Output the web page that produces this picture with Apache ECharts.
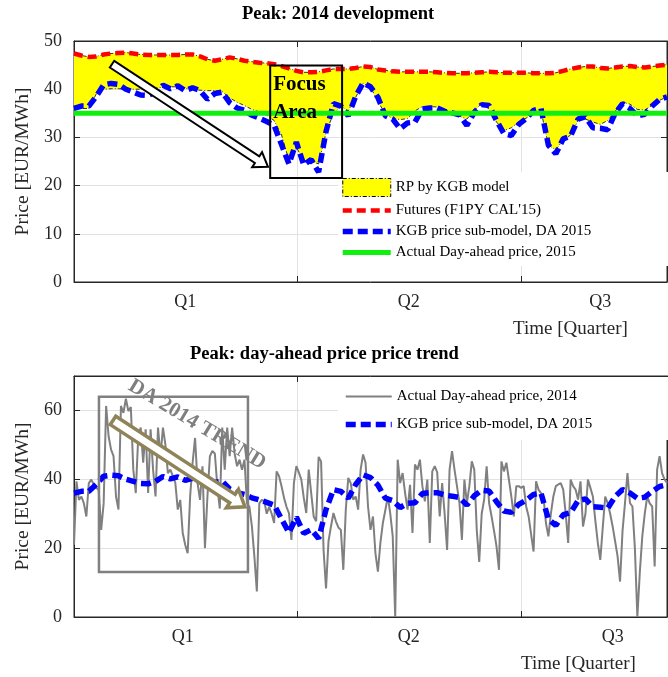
<!DOCTYPE html>
<html>
<head>
<meta charset="utf-8">
<title>Peak price development</title>
<script src="https://cdn.jsdelivr.net/npm/echarts@6/dist/echarts.min.js"></script>
<style>
  html, body { margin: 0; padding: 0; background: #fff; }
  #chart { width: 668px; height: 677px; }
</style>
</head>
<body>
<div id="chart"></div>
<script>
// ---- data ---------------------------------------------------------------
// Model curves are sampled every third day; the 2014 day-ahead price is daily.
const STEP = 3;
const DAY_MAX = 240;          // day index of the last sample (late August)
const QUARTER = 90.5;         // days per quarter, used for the quarter grid lines

const quarterLabels = ['Q1', 'Q2', 'Q3'];
const quarterLabelDaysTop = [45, 135.5, 213];
const quarterLabelDaysBottom = [44, 135.5, 218];

// Futures (F1PY CAL'15), EUR/MWh
const futures = [
  47.4, 47.0, 46.7, 46.8, 47.2, 47.4, 47.5, 47.6, 47.4, 47.2,
  47.1, 47.1, 47.1, 47.1, 47.1, 47.2, 47.2, 46.8, 46.2, 45.9,
  46.2, 46.6, 46.3, 45.9, 45.7, 45.5, 45.4, 45.2, 44.8, 44.3,
  43.8, 43.5, 43.5, 43.6, 43.9, 44.2, 44.2, 44.2, 44.4, 44.7,
  44.6, 44.1, 43.9, 43.7, 43.6, 43.6, 43.6, 43.6, 43.6, 43.5,
  43.4, 43.3, 43.3, 43.3, 43.4, 43.5, 43.6, 43.5, 43.4, 43.4,
  43.4, 43.4, 43.3, 43.3, 43.3, 43.4, 43.8, 44.2, 44.5, 44.7,
  44.7, 44.4, 44.3, 44.5, 44.7, 44.8, 44.6, 44.5, 44.7, 44.9,
  45.1
];

// Lower edge of the risk premium band (RP by KGB model)
const rpLower = [
  36.0, 36.0, 36.0, 39.0, 40.0, 40.1, 40.1, 40.0, 40.0, 40.0,
  40.0, 40.2, 40.4, 40.5, 40.5, 40.2, 39.9, 39.8, 39.7, 39.7,
  39.5, 38.2, 37.3, 36.6, 35.8, 35.3, 34.6, 33.5, 30.5, 25.2,
  28.0, 25.0, 25.0, 24.5, 31.0, 35.0, 36.5, 35.5, 38.3, 41.2,
  40.4, 37.5, 34.8, 33.9, 33.7, 33.9, 35.5, 36.4, 36.4, 36.3,
  35.8, 35.2, 34.4, 33.8, 35.6, 37.0, 35.9, 33.2, 31.4, 32.0,
  33.2, 34.0, 35.0, 35.5, 28.4, 27.4, 29.5, 30.5, 33.5, 33.8,
  33.2, 32.7, 33.5, 35.4, 37.3, 36.9, 35.8, 35.7, 36.6, 37.7,
  38.4
];

// KGB price sub-model, DA 2015
const kgbModel = [
  36.0, 36.5, 36.5, 38.5, 40.9, 41.2, 41.0, 40.0, 39.4, 38.8,
  38.7, 39.4, 40.8, 40.1, 40.7, 39.7, 40.3, 39.7, 37.9, 39.1,
  39.4, 37.2, 36.1, 35.6, 34.6, 34.0, 33.3, 32.5, 28.5, 24.5,
  29.0, 24.3, 25.4, 22.8, 31.2, 37.0, 36.5, 34.5, 38.5, 41.3,
  40.5, 38.3, 34.5, 33.8, 31.8, 33.0, 33.2, 35.9, 36.1, 36.1,
  35.4, 35.1, 34.7, 32.5, 35.2, 36.8, 36.6, 33.5, 30.8, 30.4,
  32.7, 33.9, 35.6, 36.0, 28.4, 26.6, 29.7, 30.3, 33.8, 34.3,
  32.0, 31.9, 31.6, 35.0, 37.0, 36.0, 34.5, 34.8, 36.5, 37.9,
  38.4
];

// Actual day-ahead price 2015 (flat level)
const actualDA2015 = 35;

// Actual day-ahead peak price 2014, one value per day
const actualDA2014 = [
  21, 39.4, 34, 35, 33, 29.2, 38.9, 39.9, 38.5, 37.5,
  37, 25.3, 33, 61.3, 52.5, 48.6, 46.7, 35, 31.2, 61.3,
  59.3, 63.4, 59.8, 61, 42.8, 36, 52.5, 55, 44.8, 54.5,
  36, 54.5, 42.8, 35, 55, 46.7, 55, 50, 41.8, 42.8,
  40.9, 39, 31.2, 34, 24.4, 21, 18.5, 35, 44.8, 52,
  38.9, 34, 43.8, 20, 35, 46.7, 48.2, 47.5, 38, 31.5,
  55, 42.8, 55, 46.7, 55, 47.5, 43.8, 45.7, 42.8, 45.7,
  33, 32, 26.3, 17.6, 7.4, 33, 34, 33.6, 30, 32,
  30, 27.3, 42.3, 40.9, 38, 34.6, 32, 30.2, 22.4, 38.9,
  43.8, 42, 39.9, 34.6, 30.2, 42.8, 36, 29.2, 27.8, 46.5,
  45.2, 19.5, 8.3, 22, 26.3, 30.2, 27.8, 26, 25.3, 13.7,
  31.2, 40.4, 38.9, 34.1, 35, 31.2, 42.8, 47.2, 44.8, 32.1,
  25.3, 29.2, 18.5, 13.2, 21.5, 27.3, 31, 35, 30, 23.4,
  0, 45.7, 38.9, 41.8, 36, 31.2, 38.4, 24.4, 44.3, 42.8,
  45.7, 38, 33.6, 39.9, 21.5, 42.3, 43.8, 42, 29.2, 38.9,
  30, 19.5, 42.8, 48.2, 42.8, 38, 33.1, 22.4, 39.9, 33,
  38, 45.2, 42.8, 25.3, 16, 30, 34.1, 43.8, 33.1, 29.2,
  25, 20.5, 13.7, 45.2, 42.3, 44.8, 40, 35, 29.2, 38,
  38, 37.5, 38, 32.1, 29.2, 24, 19, 39.4, 37, 36,
  35, 27.3, 23.4, 30, 35, 38, 38.5, 38.9, 37, 30,
  21.5, 39.9, 38, 37, 34.1, 39.4, 26.3, 30, 39.9, 37.5,
  35, 28, 21.5, 16.6, 26, 35, 33, 30, 26.3, 22,
  17.6, 10.3, 25, 33.1, 41.8, 33.1, 32.1, 20, 0, 13,
  23.4, 30, 35, 33, 32.1, 14.7, 42.8, 46.7, 41.8, 40,
  38.9
];

// Annotation anchors, in [day, EUR/MWh]
const focusBox = [[79.4, 44.9], [108.5, 21.6]];
const focusArrow = [[15.4, 45.2], [78.5, 23.9]];
const trendBox = [[10.1, 64.0], [70.4, 13.1]];
const trendArrow = [[15.8, 57.1], [69.2, 32.0]];
const trendTextAt = [49.8, 55.9];

// ---- styling ------------------------------------------------------------
const FONT = '"Liberation Serif", "Times New Roman", Times, serif';
const INK = '#262626';
const GRID_LINE = '#e2e2e2';
const BAND_EDGE = { color: '#000', width: 0.8, type: [4, 2, 1, 2] };
const BLUE_DASH = { color: '#0000ff', width: 5.5, type: [10, 5] };
const NO_MARKER = { opacity: 0 };   // legend rows show only the line

const pairs = (values, step) => values.map((v, i) => [i * step, v]);

function timeAxis(gridIndex, labelDays, nameShift) {
  return {
    type: 'value', gridIndex, position: 'bottom',
    min: 0, max: DAY_MAX, interval: QUARTER,
    axisLine: { show: true, onZero: false, lineStyle: { color: INK, width: 1 } },
    axisTick: { show: true, inside: true, length: 6, lineStyle: { color: INK } },
    axisLabel: {
      customValues: labelDays,
      formatter: v => quarterLabels[Math.floor(v / QUARTER)] || '',
      margin: 11, fontFamily: FONT, fontSize: 18, color: INK
    },
    splitLine: { show: true, lineStyle: { color: GRID_LINE, width: 1 } },
    name: 'Time [Quarter]', nameLocation: 'middle', nameGap: 38,
    nameTextStyle: { fontFamily: FONT, fontSize: 19, color: INK, padding: [0, 0, 0, nameShift * 2] }
  };
}

function topFrameAxis(gridIndex) {
  return {
    type: 'value', gridIndex, position: 'top',
    min: 0, max: DAY_MAX, interval: QUARTER,
    axisLine: { show: true, onZero: false, lineStyle: { color: INK, width: 1 } },
    axisTick: { show: true, inside: true, length: 6, lineStyle: { color: INK } },
    axisLabel: { show: false },
    splitLine: { show: false }
  };
}

function priceAxis(gridIndex, max, interval) {
  return {
    type: 'value', gridIndex, position: 'left',
    min: 0, max, interval,
    axisLine: { show: true, onZero: false, lineStyle: { color: INK, width: 1 } },
    axisTick: { show: true, inside: true, length: 6, lineStyle: { color: INK } },
    axisLabel: {
      margin: 12, fontFamily: FONT, fontSize: 18, color: INK,
      formatter: v => (v % interval === 0 ? String(v) : '')
    },
    splitLine: { show: true, lineStyle: { color: GRID_LINE, width: 1 } },
    name: 'Price [EUR/MWh]', nameLocation: 'middle', nameGap: 41,
    nameTextStyle: { fontFamily: FONT, fontSize: 19.5, color: INK }
  };
}

function rightFrameAxis(gridIndex, max, interval) {
  return {
    type: 'value', gridIndex, position: 'right',
    min: 0, max, interval,
    axisLine: { show: true, onZero: false, lineStyle: { color: INK, width: 1 } },
    axisTick: { show: true, inside: true, length: 6, lineStyle: { color: INK } },
    axisLabel: { show: false },
    splitLine: { show: false }
  };
}

// Filled band between the futures curve and the lower RP edge
function renderBand(params, api) {
  if (params.dataIndex !== 0) return null;
  const upper = futures.map((v, i) => api.coord([i * STEP, v]));
  const lower = rpLower.map((v, i) => api.coord([i * STEP, v])).reverse();
  return {
    type: 'polygon',
    shape: { points: upper.concat(lower) },
    style: { fill: '#ffff00', stroke: null }
  };
}

const titleStyle = { fontFamily: FONT, fontSize: 18.5, fontWeight: 'bold', color: '#000' };
const legendText = { fontFamily: FONT, fontSize: 15, color: '#000' };
const legendLine = { width: 'inherit', type: 'inherit' };

const option = {
  animation: false,
  backgroundColor: '#fff',
  title: [
    { text: 'Peak: 2014 development', left: 242, top: 5, padding: 0, textStyle: titleStyle },
    { text: 'Peak: day-ahead price price trend', left: 190, top: 345, padding: 0, textStyle: titleStyle }
  ],
  grid: [
    { left: 74, top: 41, width: 593, height: 241, show: true, borderColor: INK, borderWidth: 1 },
    { left: 74, top: 376, width: 593, height: 241, show: true, borderColor: INK, borderWidth: 1 }
  ],
  xAxis: [
    timeAxis(0, quarterLabelDaysTop, 200),
    topFrameAxis(0),
    timeAxis(1, quarterLabelDaysBottom, 208),
    topFrameAxis(1)
  ],
  yAxis: [
    priceAxis(0, 50, 10),
    rightFrameAxis(0, 50, 10),
    priceAxis(1, 70, 20),
    rightFrameAxis(1, 70, 20)
  ],
  legend: [
    {
      data: [
        { name: 'RP by KGB model', icon: 'rect',
          itemStyle: { color: '#ffff00', borderColor: '#000', borderWidth: 1, borderType: [4, 2, 1, 2] } },
        { name: "Futures (F1PY CAL'15)", itemStyle: NO_MARKER },
        { name: 'KGB price sub-model, DA 2015', itemStyle: NO_MARKER },
        { name: 'Actual Day-ahead price, 2015', itemStyle: NO_MARKER }
      ],
      orient: 'vertical', left: 338, top: 172,
      padding: [6, 78, 6, 2], itemGap: 6, itemWidth: 48, itemHeight: 18,
      backgroundColor: '#fff', selectedMode: false, textStyle: legendText, lineStyle: legendLine
    },
    {
      data: [
        { name: 'Actual Day-ahead price, 2014', itemStyle: NO_MARKER },
        { name: 'KGB price sub-model, DA 2015', itemStyle: NO_MARKER }
      ],
      orient: 'vertical', left: 338, top: 377,
      padding: [12, 89, 8, 5], itemGap: 13, itemWidth: 46, itemHeight: 12,
      backgroundColor: '#fff', selectedMode: false, textStyle: legendText, lineStyle: legendLine
    }
  ],
  series: [
    {
      name: 'RP by KGB model', type: 'custom', xAxisIndex: 0, yAxisIndex: 0,
      data: futures.map((hi, i) => [i * STEP, rpLower[i], hi]),
      encode: { x: 0, y: [1, 2] },
      itemStyle: { color: '#ffff00' },
      renderItem: renderBand, silent: true, z: 1
    },
    {
      name: 'RP lower edge', type: 'line', xAxisIndex: 0, yAxisIndex: 0,
      data: pairs(rpLower, STEP), symbol: 'none', silent: true, lineStyle: BAND_EDGE, z: 2
    },
    {
      name: 'RP upper edge', type: 'line', xAxisIndex: 0, yAxisIndex: 0,
      data: pairs(futures, STEP), symbol: 'none', silent: true, lineStyle: BAND_EDGE, z: 2
    },
    {
      name: "Futures (F1PY CAL'15)", type: 'line', xAxisIndex: 0, yAxisIndex: 0,
      data: pairs(futures, STEP), symbol: 'none',
      itemStyle: { color: '#ff0000' },
      lineStyle: { color: '#ff0000', width: 4.5, type: [9, 5] }, z: 3
    },
    {
      name: 'KGB price sub-model, DA 2015', type: 'line', xAxisIndex: 0, yAxisIndex: 0,
      data: pairs(kgbModel, STEP), symbol: 'none',
      itemStyle: { color: '#0000ff' }, lineStyle: BLUE_DASH, z: 3
    },
    {
      name: 'Actual Day-ahead price, 2015', type: 'line', xAxisIndex: 0, yAxisIndex: 0,
      data: [[0, actualDA2015], [DAY_MAX, actualDA2015]], symbol: 'none',
      itemStyle: { color: '#10f010' },
      lineStyle: { color: '#10f010', width: 5 }, z: 4
    },
    {
      name: 'Actual Day-ahead price, 2014', type: 'line', xAxisIndex: 2, yAxisIndex: 2,
      data: pairs(actualDA2014, 1), symbol: 'none',
      itemStyle: { color: '#808080' },
      lineStyle: { color: '#808080', width: 2 }, z: 2
    },
    {
      name: 'KGB price sub-model, DA 2015', type: 'line', xAxisIndex: 2, yAxisIndex: 2,
      data: pairs(kgbModel, STEP), symbol: 'none',
      itemStyle: { color: '#0000ff' }, lineStyle: BLUE_DASH, z: 3
    }
  ]
};

const chart = echarts.init(document.getElementById('chart'), null, { renderer: 'canvas' });
chart.setOption(option);

// ---- annotations (placed through the axes' own scales) ------------------
const topPlot = { xAxisIndex: 0, yAxisIndex: 0 };
const bottomPlot = { xAxisIndex: 2, yAxisIndex: 2 };
const toPx = (finder, p) => chart.convertToPixel(finder, p);

function blockArrow(from, to, shaftHalf, headHalf, headLen) {
  const dx = to[0] - from[0], dy = to[1] - from[1];
  const len = Math.hypot(dx, dy);
  const ux = dx / len, uy = dy / len, nx = -uy, ny = ux;
  const bx = to[0] - ux * headLen, by = to[1] - uy * headLen;
  return [
    [from[0] + nx * shaftHalf, from[1] + ny * shaftHalf],
    [bx + nx * shaftHalf, by + ny * shaftHalf],
    [bx + nx * headHalf, by + ny * headHalf],
    [to[0], to[1]],
    [bx - nx * headHalf, by - ny * headHalf],
    [bx - nx * shaftHalf, by - ny * shaftHalf],
    [from[0] - nx * shaftHalf, from[1] - ny * shaftHalf]
  ];
}

function boxShape(finder, box) {
  const a = toPx(finder, box[0]), b = toPx(finder, box[1]);
  return { x: a[0], y: a[1], width: b[0] - a[0], height: b[1] - a[1] };
}

const focusRect = boxShape(topPlot, focusBox);
const trendRect = boxShape(bottomPlot, trendBox);
const trendCenter = toPx(bottomPlot, trendTextAt);

chart.setOption({
  graphic: { elements: [
    {
      type: 'polygon', z: 100,
      shape: { points: blockArrow(toPx(topPlot, focusArrow[0]), toPx(topPlot, focusArrow[1]), 4, 9, 13) },
      style: { fill: '#fff', stroke: '#000', lineWidth: 2 }
    },
    {
      type: 'rect', z: 100, shape: focusRect,
      style: { fill: 'rgba(0,0,0,0)', stroke: '#000', lineWidth: 2 }
    },
    {
      type: 'text', z: 101, x: focusRect.x + 3, y: focusRect.y + 5,
      style: { text: 'Focus\nArea', fontFamily: FONT, fontSize: 21, fontWeight: 'bold', lineHeight: 28, fill: '#000' }
    },
    {
      type: 'rect', z: 100, shape: trendRect,
      style: { fill: 'rgba(0,0,0,0)', stroke: '#808080', lineWidth: 2.5 }
    },
    {
      type: 'polygon', z: 100,
      shape: { points: blockArrow(toPx(bottomPlot, trendArrow[0]), toPx(bottomPlot, trendArrow[1]), 5, 11, 15) },
      style: { fill: '#fff', stroke: '#8f8459', lineWidth: 3.5 }
    },
    {
      type: 'text', z: 101, x: trendCenter[0], y: trendCenter[1], rotation: -31 * Math.PI / 180,
      style: {
        text: 'DA 2014 TREND', fontFamily: FONT, fontSize: 21, fontWeight: 'bold', fill: '#7f7f7f',
        align: 'center', verticalAlign: 'middle', textAlign: 'center', textVerticalAlign: 'middle'
      }
    }
  ] }
});
</script>
</body>
</html>
